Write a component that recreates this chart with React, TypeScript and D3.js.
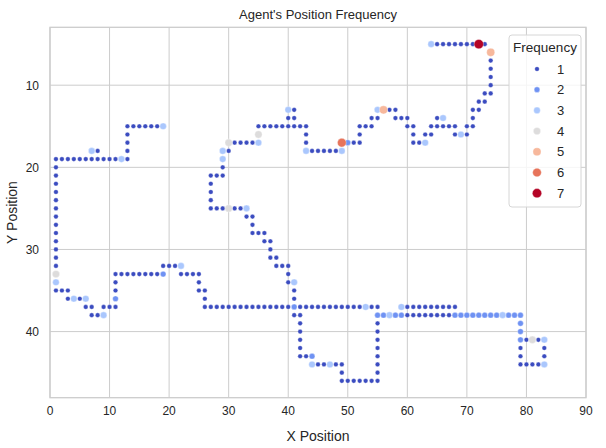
import React from "react";
import * as d3 from "d3";

// Grid cells visited by the agent, grouped by how often each was visited.
const visitedOnce: [number, number][] = [
  [65, 5], [66, 5], [67, 5], [68, 5], [69, 5], [70, 5], [71, 5], [73, 5],
  [74, 7], [74, 8], [74, 9], [74, 10], [74, 11], [73, 11],
  [72, 12], [73, 12], [71, 13], [72, 13], [71, 14], [70, 15], [71, 15], [68, 16], [70, 16],
  [64, 15], [65, 15], [66, 15], [67, 15], [68, 15], [65, 14],
  [63, 16], [64, 16], [61, 17], [62, 17], [61, 16], [60, 15], [61, 15],
  [58, 14], [59, 14], [60, 14], [57, 13], [58, 13], [54, 14], [55, 14],
  [52, 15], [53, 15], [54, 15], [52, 16], [51, 17], [52, 17],
  [44, 18], [45, 18], [46, 18], [47, 18], [48, 18], [43, 16], [43, 17],
  [35, 15], [36, 15], [37, 15], [38, 15], [39, 15], [40, 15], [41, 15], [42, 15], [43, 15],
  [41, 13], [40, 14], [41, 14],
  [31, 17], [32, 17], [33, 17], [34, 17], [30, 18], [29, 20],
  [27, 21], [28, 21], [29, 21], [27, 22], [27, 23], [27, 24],
  [27, 25], [28, 25], [29, 25], [31, 25], [32, 25],
  [33, 26], [34, 26], [34, 27], [34, 28], [35, 28], [36, 28], [36, 29], [37, 29],
  [37, 30], [37, 31], [38, 31], [38, 32], [39, 32], [40, 32], [40, 33], [40, 34],
  [41, 35], [41, 36],
  [26, 37], [27, 37], [28, 37], [29, 37], [30, 37], [31, 37], [32, 37], [33, 37],
  [34, 37], [35, 37], [36, 37], [37, 37], [38, 37], [39, 37], [40, 37],
  [42, 37], [43, 37], [44, 37], [45, 37], [46, 37], [47, 37], [48, 37], [49, 37],
  [50, 37], [51, 37], [52, 37], [54, 37], [55, 37],
  [41, 38], [42, 38], [42, 39], [42, 40], [42, 41], [42, 42], [42, 43], [43, 43],
  [45, 44], [46, 44], [48, 44], [49, 44], [49, 45],
  [49, 46], [50, 46], [51, 46], [52, 46], [53, 46], [54, 46], [55, 46],
  [55, 39], [55, 40], [55, 41], [55, 42], [55, 43], [55, 44], [55, 45],
  [60, 38], [61, 38], [62, 38], [63, 38], [64, 38], [65, 38], [66, 38], [67, 38],
  [60, 37], [61, 37], [62, 37], [63, 37], [64, 37], [65, 37], [66, 37], [67, 37], [68, 37],
  [80, 41], [82, 41], [79, 42], [79, 43],
  [79, 44], [80, 44], [81, 44], [82, 44], [83, 42], [83, 43],
  [13, 15], [14, 15], [15, 15], [16, 15], [17, 15], [18, 15],
  [13, 16], [13, 17], [13, 18],
  [1, 19], [2, 19], [3, 19], [4, 19], [5, 19], [6, 19], [7, 19], [8, 19], [9, 19],
  [10, 19], [11, 19], [13, 19], [8, 18],
  [1, 20], [1, 21], [1, 22], [1, 23], [1, 24], [1, 25], [1, 26], [1, 27], [1, 28],
  [1, 29], [1, 30], [1, 31], [1, 32],
  [1, 35], [2, 35], [3, 35], [3, 36], [5, 36],
  [6, 37], [7, 37], [9, 37], [10, 37], [11, 37], [7, 38], [8, 38],
  [11, 34], [11, 35],
  [11, 33], [12, 33], [13, 33], [14, 33], [15, 33], [16, 33], [17, 33], [18, 33],
  [19, 32], [20, 32], [21, 32],
  [22, 33], [23, 33], [24, 33], [25, 33], [25, 34], [25, 35], [26, 35], [26, 36],
];

const visitedTwice: [number, number][] = [
  [50, 17], [41, 37], [44, 43],
  [55, 38], [56, 38], [58, 38], [59, 38],
  [68, 38], [69, 38], [70, 38], [71, 38], [72, 38], [73, 38], [74, 38], [75, 38],
  [77, 38], [78, 38], [79, 38], [79, 39], [79, 40], [79, 41],
  [11, 36], [19, 33],
];

const visitedThrice: [number, number][] = [
  [64, 5], [69, 16], [66, 14], [63, 17], [55, 13], [43, 18], [49, 18], [40, 13],
  [35, 17], [29, 18], [29, 19], [33, 25], [41, 34], [53, 37], [57, 38], [76, 38],
  [59, 37], [83, 41], [83, 44], [44, 44], [47, 44], [19, 15], [12, 19], [7, 18],
  [1, 34], [4, 36], [6, 36], [9, 38], [22, 32],
];

const visitedFour: [number, number][] = [[35, 16], [30, 17], [30, 25], [81, 41], [1, 33]];
const visitedFive: [number, number][] = [[74, 6], [56, 13]];
const visitedSix: [number, number][] = [[49, 17]];
const visitedSeven: [number, number][] = [[72, 5]];

const frequencyLevels = [1, 2, 3, 4, 5, 6, 7];
const frequencyGroups = [
  visitedOnce, visitedTwice, visitedThrice, visitedFour, visitedFive, visitedSix, visitedSeven,
];

const xTicks = [0, 10, 20, 30, 40, 50, 60, 70, 80, 90];
const yTicks = [10, 20, 30, 40];

const W = 606;
const H = 448;
const plot = { left: 50, right: 586, top: 27.3, bottom: 397.7 };
const FONT = "'Liberation Sans', Arial, Helvetica, sans-serif";

// coolwarm colormap sampled at the seven frequency levels
const colour = d3
  .scaleOrdinal<number, string>()
  .domain(frequencyLevels)
  .range(["#3b4cc0", "#6f92f3", "#aac7fd", "#dddcdc", "#f7b89c", "#e7745b", "#b40426"]);

// marker area grows linearly with frequency
const area = d3.scaleLinear().domain([1, 7]).range([18, 72]);
const radius = (f: number) => (Math.sqrt(area(f)) / 2) * 1.1;

export default function App() {
  const x = d3.scaleLinear().domain([0, 90]).range([plot.left, plot.right]);
  const y = d3.scaleLinear().domain([2.95, 48.05]).range([plot.top, plot.bottom]);

  const legendTop = 35;
  const legendRow = 20.7;

  return (
    <svg
      width={W}
      height={H}
      style={{ position: "absolute", left: 0, top: 0, background: "#fff" }}
      fontFamily={FONT}
    >
      <rect x={0} y={0} width={W} height={H} fill="#fff" />

      {/* grid */}
      {xTicks.map((t) => (
        <line key={"gx" + t} x1={x(t)} x2={x(t)} y1={plot.top} y2={plot.bottom} stroke="#cccccc" strokeWidth={1} />
      ))}
      {yTicks.map((t) => (
        <line key={"gy" + t} x1={plot.left} x2={plot.right} y1={y(t)} y2={y(t)} stroke="#cccccc" strokeWidth={1} />
      ))}
      <rect
        x={plot.left}
        y={plot.top}
        width={plot.right - plot.left}
        height={plot.bottom - plot.top}
        fill="none"
        stroke="#cccccc"
        strokeWidth={1.3}
      />

      {/* tick labels */}
      {xTicks.map((t) => (
        <text key={"tx" + t} x={x(t)} y={plot.bottom + 17} textAnchor="middle" fontSize={12} fill="#262626">
          {t}
        </text>
      ))}
      {yTicks.map((t) => (
        <text key={"ty" + t} x={plot.left - 11} y={y(t) + 4.3} textAnchor="end" fontSize={12} fill="#262626">
          {t}
        </text>
      ))}

      {/* points */}
      {frequencyGroups.map((cells, i) =>
        cells.map(([cx, cy], j) => (
          <circle
            key={`p${i}-${j}`}
            cx={x(cx)}
            cy={y(cy)}
            r={radius(frequencyLevels[i])}
            fill={colour(frequencyLevels[i])}
            stroke="#fff"
            strokeWidth={0.35}
          />
        ))
      )}

      {/* titles */}
      <text x={(plot.left + plot.right) / 2} y={19} textAnchor="middle" fontSize={13} fill="#262626">
        Agent's Position Frequency
      </text>
      <text x={(plot.left + plot.right) / 2} y={441} textAnchor="middle" fontSize={14} fill="#262626">
        X Position
      </text>
      <text
        transform={`translate(17,${(plot.top + plot.bottom) / 2}) rotate(-90)`}
        textAnchor="middle"
        fontSize={14}
        fill="#262626"
      >
        Y Position
      </text>

      {/* legend */}
      <g>
        <rect x={509} y={legendTop} width={72} height={172} rx={3} fill="#fff" fillOpacity={0.8} stroke="#d6d6d6" strokeWidth={1} />
        <text x={545} y={legendTop + 17} textAnchor="middle" fontSize={13.5} fill="#262626">
          Frequency
        </text>
        {frequencyLevels.map((f, i) => (
          <g key={"lg" + f}>
            <circle cx={537} cy={legendTop + 34 + i * legendRow} r={radius(f)} fill={colour(f)} stroke="#fff" strokeWidth={0.35} />
            <text x={557} y={legendTop + 38.5 + i * legendRow} fontSize={13} fill="#262626">
              {f}
            </text>
          </g>
        ))}
      </g>
    </svg>
  );
}
